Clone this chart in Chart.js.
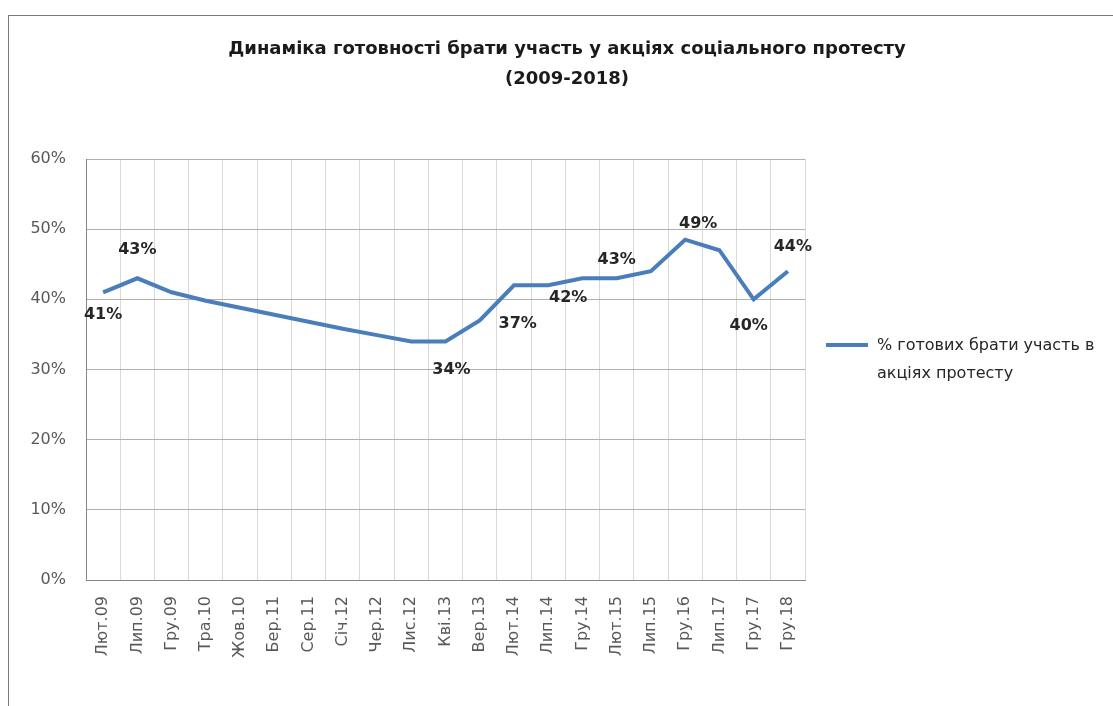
<!DOCTYPE html>
<html>
<head>
<meta charset="utf-8">
<script src="https://cdn.jsdelivr.net/npm/chart.js@4"></script>
<style>
  html, body { margin: 0; padding: 0; background: #fff; }
  #wrap { position: relative; width: 1113px; height: 706px; overflow: hidden; }
  #frame { position: absolute; left: 8px; top: 15px; width: 1200px; height: 800px;
           border-left: 1px solid #7a7a7a; border-top: 1px solid #7a7a7a; }
  #title { position: absolute; left: 0; top: 33px; width: 1134px; text-align: center;
           font: bold 18px "DejaVu Sans", sans-serif; line-height: 30px; color: #1a1a1a; }
  #box { position: absolute; left: 0; top: 0; width: 1113px; height: 706px; }
  #legLine { position: absolute; left: 826px; top: 343px; width: 42px; height: 4px; background: #4a7ebb; }
  #legText { position: absolute; left: 877px; top: 331px; width: 236px;
             font: 16px "DejaVu Sans", sans-serif; line-height: 28px; color: #262626; }
</style>
</head>
<body>
<div id="wrap">
  <div id="frame"></div>
  <div id="box"><canvas id="chart"></canvas></div>
  <div id="title"></div>
  <div id="legLine"></div>
  <div id="legText"></div>
</div>
<script>
const titleLines = ['Динаміка готовності брати участь у акціях соціального протесту', '(2009-2018)'];
const seriesName = '% готових брати участь в акціях протесту';
const months = ['Лют.09', 'Лип.09', 'Гру.09', 'Тра.10', 'Жов.10', 'Бер.11', 'Сер.11', 'Січ.12', 'Чер.12', 'Лис.12',
                'Кві.13', 'Вер.13', 'Лют.14', 'Лип.14', 'Гру.14', 'Лют.15', 'Лип.15', 'Гру.16', 'Лип.17', 'Гру.17', 'Гру.18'];
const readiness = [41, 43, 41, 39.8, 38.8, 37.8, 36.8, 35.8, 34.9, 34,
                   34, 37, 42, 42, 43, 43, 44, 48.5, 47, 40, 44];
const yTicks = [0, 10, 20, 30, 40, 50, 60];

// which points carry a value label, and where the label sits relative to the point
const labelled = [0, 1, 10, 11, 13, 15, 17, 19, 20];
const labelOffset = [[0, 23], [0, -28], [6, 28], [38, 3], [20, 13], [0, -18], [13, -16], [-5, 27], [5, -24]];

document.getElementById('title').innerHTML = titleLines.join('<br>');
document.getElementById('legText').textContent = seriesName;

const tickFont = { family: 'DejaVu Sans', size: 16 };

const valueLabels = {
    id: 'valueLabels',
    afterDatasetsDraw(chart) {
        const ctx = chart.ctx;
        const pts = chart.getDatasetMeta(0).data;
        ctx.save();
        ctx.font = 'bold 16px "DejaVu Sans"';
        ctx.fillStyle = '#262626';
        ctx.textAlign = 'center';
        ctx.textBaseline = 'middle';
        labelled.forEach(function (i, k) {
            const p = pts[i];
            ctx.fillText(Math.round(readiness[i]) + '%', p.x + labelOffset[k][0], p.y + labelOffset[k][1]);
        });
        ctx.restore();
    }
};

new Chart(document.getElementById('chart'), {
    type: 'line',
    data: {
        labels: months,
        datasets: [{
            label: seriesName,
            data: readiness,
            borderColor: '#4a7ebb',
            borderWidth: 4,
            pointRadius: 0,
            tension: 0,
            fill: false,
        }],
    },
    options: {
        responsive: true,
        maintainAspectRatio: false,
        animation: false,
        layout: { padding: { left: 0, right: 308, top: 159, bottom: 0 } },
        plugins: {
            legend: { display: false },
            tooltip: { enabled: false },
        },
        scales: {
            x: {
                offset: true,
                grid: { offset: true, color: '#d9d9d9', drawTicks: false },
                border: { color: '#868686' },
                ticks: { color: '#595959', font: tickFont, minRotation: 90, maxRotation: 90, padding: 16, autoSkip: false },
                afterFit: function (s) { s.height = 126; },
            },
            y: {
                min: 0,
                max: 60,
                afterBuildTicks: function (s) { s.ticks = yTicks.map(function (v) { return { value: v }; }); },
                grid: { color: '#b0b0b0', drawTicks: false },
                border: { color: '#868686' },
                ticks: { color: '#595959', font: tickFont, padding: 20, callback: function (v) { return v + '%'; } },
                afterFit: function (s) { s.width = 86; },
            },
        },
    },
    plugins: [valueLabels],
});
</script>
</body>
</html>
